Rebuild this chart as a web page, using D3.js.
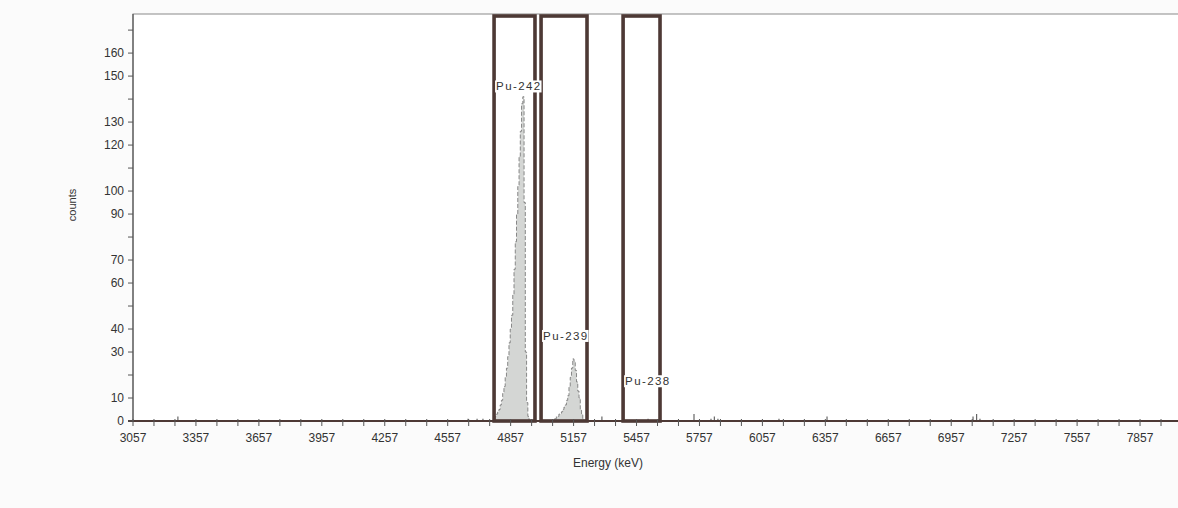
<!DOCTYPE html>
<html>
<head>
<meta charset="utf-8">
<script src="https://cdn.jsdelivr.net/npm/d3@7.9.0/dist/d3.min.js"></script>
<style>
  body { margin: 0; background: #fbfbfb; }
  svg { display: block; font-family: "Liberation Sans", Arial, sans-serif; }
</style>
</head>
<body>
<svg id="chart" width="1178" height="508"></svg>
<script>
// Spectrum data (energy in keV, counts)
const pu242Energy = [4780, 4786, 4792, 4798, 4804, 4810, 4816, 4822, 4828, 4834, 4840, 4846, 4852, 4858, 4864, 4870, 4876, 4882, 4888, 4894, 4900, 4906, 4912, 4918, 4924, 4930, 4936, 4942, 4948];
const pu242Counts = [1, 2, 3, 4, 5, 7, 9, 12, 15, 19, 23, 28, 34, 40, 46, 55, 66, 78, 90, 102, 115, 126, 138, 141, 95, 30, 8, 2, 0];

const pu239Energy = [5066, 5072, 5078, 5084, 5090, 5096, 5102, 5108, 5114, 5120, 5126, 5132, 5138, 5144, 5150, 5156, 5162, 5168, 5174, 5180, 5186, 5192, 5198, 5204, 5210];
const pu239Counts = [1, 1, 2, 2, 3, 3, 4, 5, 6, 7, 9, 11, 15, 19, 23, 27, 26, 22, 17, 13, 10, 5, 3, 1, 0];

// isolated background counts
const noiseEnergy = [3271, 4654, 4697, 4725, 5292, 5512, 5731, 5812, 5828, 5845, 6136, 6365, 7061, 7078, 7094];
const noiseCounts = [2, 1, 1, 1, 2, 1, 3, 1, 2, 1, 1, 2, 2, 3, 1];

// regions of interest
const roiStart = [4778, 5002, 5393];
const roiEnd = [4973, 5221, 5569];
const roiLabels = ["Pu-242", "Pu-239", "Pu-238"];
const roiLabelY = [145.5, 37, 17.3];

const xTicks = [3057, 3357, 3657, 3957, 4257, 4557, 4857, 5157, 5457, 5757, 6057, 6357, 6657, 6957, 7257, 7557, 7857];
const yTickLabels = [0, 10, 30, 40, 60, 70, 90, 100, 120, 130, 150, 160];
const yTicks = [0, 10, 20, 30, 40, 50, 60, 70, 80, 90, 100, 110, 120, 130, 140, 150, 160, 170];

const svg = d3.select("#chart");
const x = d3.scaleLinear().domain([3057, 8057]).range([133, 1182]);
const y = d3.scaleLinear().domain([0, 177]).range([421, 14]);

// plot background
svg.append("rect")
  .attr("x", x(3057)).attr("y", y(177))
  .attr("width", x(8057) - x(3057)).attr("height", y(0) - y(177))
  .attr("fill", "#ffffff")
  .attr("stroke", "#8a8a8a")
  .attr("stroke-width", 1);

// peaks
const area = d3.area()
  .x(d => x(d[0]))
  .y0(y(0))
  .y1(d => y(d[1]))
  .curve(d3.curveStep);

[[pu242Energy, pu242Counts], [pu239Energy, pu239Counts]].forEach(([e, c]) => {
  const pts = e.map((v, i) => [v, c[i]]);
  svg.append("path")
    .attr("d", area(pts))
    .attr("fill", "#d4d6d4")
    .attr("stroke", "#6f6f6f")
    .attr("stroke-width", 0.8)
    .attr("stroke-dasharray", "4,2");
});

// background blips
svg.selectAll("line.noise")
  .data(noiseEnergy)
  .join("line")
  .attr("class", "noise")
  .attr("x1", d => x(d)).attr("x2", d => x(d))
  .attr("y1", y(0))
  .attr("y2", (d, i) => y(noiseCounts[i]))
  .attr("stroke", "#666")
  .attr("stroke-width", 1.2);

// ROI boxes
roiStart.forEach((s, i) => {
  svg.append("rect")
    .attr("x", x(s)).attr("y", 16)
    .attr("width", x(roiEnd[i]) - x(s))
    .attr("height", y(0) - 16)
    .attr("fill", "none")
    .attr("stroke", "#4d3935")
    .attr("stroke-width", 3.6);
});

// ROI labels
roiLabels.forEach((lab, i) => {
  const g = svg.append("g").attr("transform", `translate(${x(roiStart[i]) + 2},${y(roiLabelY[i])})`);
  const t = g.append("text")
    .attr("dy", "0.35em")
    .attr("font-size", 11.5)
    .attr("letter-spacing", 1.4)
    .attr("fill", "#333")
    .text(lab);
  const bb = t.node().getBBox();
  g.insert("rect", "text")
    .attr("x", bb.x - 1).attr("y", bb.y)
    .attr("width", bb.width + 1).attr("height", bb.height)
    .attr("fill", "#fff");
});

// x axis
const xAxis = svg.append("g");
xAxis.append("line")
  .attr("x1", x(3057) - 5).attr("x2", x(8057))
  .attr("y1", y(0)).attr("y2", y(0))
  .attr("stroke", "#4d3935").attr("stroke-width", 2);
xAxis.selectAll("line.minor")
  .data(d3.range(3057, 8057, 100))
  .join("line")
  .attr("x1", d => x(d)).attr("x2", d => x(d))
  .attr("y1", y(0) - 2).attr("y2", y(0) + 5)
  .attr("stroke", "#555").attr("stroke-width", 1);
xAxis.selectAll("text")
  .data(xTicks)
  .join("text")
  .attr("x", d => x(d)).attr("y", 442)
  .attr("text-anchor", "middle")
  .attr("font-size", 12)
  .attr("fill", "#333")
  .text(d => d);

// y axis
const yAxis = svg.append("g");
yAxis.append("line")
  .attr("x1", x(3057)).attr("x2", x(3057))
  .attr("y1", y(177)).attr("y2", y(0))
  .attr("stroke", "#555").attr("stroke-width", 1.2);
yAxis.selectAll("line.tick")
  .data(yTicks)
  .join("line")
  .attr("x1", x(3057) - 5).attr("x2", x(3057))
  .attr("y1", d => y(d)).attr("y2", d => y(d))
  .attr("stroke", "#555");
yAxis.selectAll("text")
  .data(yTickLabels)
  .join("text")
  .attr("x", x(3057) - 9).attr("y", d => y(d))
  .attr("dy", "0.35em")
  .attr("text-anchor", "end")
  .attr("font-size", 12)
  .attr("fill", "#333")
  .text(d => d);

// axis titles
svg.append("text")
  .attr("transform", `translate(76,205) rotate(-90)`)
  .attr("text-anchor", "middle")
  .attr("font-size", 11)
  .attr("fill", "#333")
  .text("counts");
svg.append("text")
  .attr("x", 608).attr("y", 467)
  .attr("text-anchor", "middle")
  .attr("font-size", 12)
  .attr("fill", "#333")
  .text("Energy (keV)");
</script>
</body>
</html>
